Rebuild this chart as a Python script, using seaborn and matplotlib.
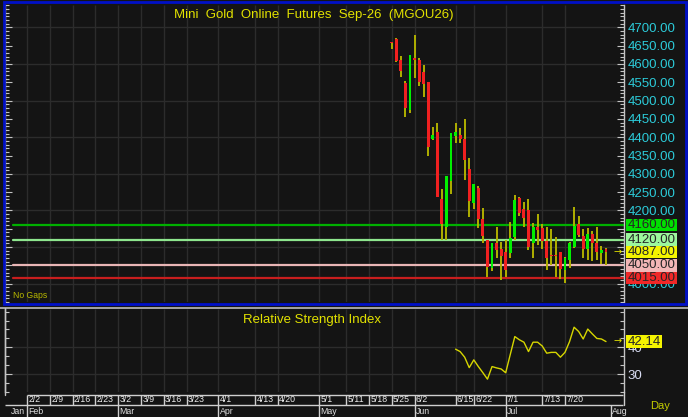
import numpy as np
import pandas as pd
import matplotlib
matplotlib.use("Agg")
import matplotlib.pyplot as plt
import matplotlib.transforms as mtrans
from matplotlib.patches import Rectangle
from matplotlib.lines import Line2D
from matplotlib.ticker import MultipleLocator, FixedLocator, FuncFormatter
import seaborn as sns

# ---------------- data ----------------
title = "Mini  Gold  Online  Futures  Sep-26  (MGOU26)"
rsi_title = "Relative Strength Index"
first_candle_date = "2026-05-25"
no_session_days = ["2026-06-01", "2026-06-19"]

opens = [4661, 4667, 4611, 4547, 4474, 4616, 4612, 4579, 4552, 4394, 4414, 4231,
         4155, 4280, 4403, 4407, 4394, 4312, 4219, 4261, 4178, 4118, 4044, 4110,
         4096, 4086, 4084, 4127, 4233, 4203, 4201, 4110, 4155, 4152, 4116, 4078,
         4078, 4087, 4037, 4066, 4101, 4163, 4131, 4096, 4137, 4110, 4084, 4096]
highs = [4661, 4671, 4622, 4554, 4624, 4680, 4617, 4597, 4552, 4427, 4440, 4258,
         4295, 4412, 4440, 4424, 4449, 4342, 4271, 4266, 4206, 4118, 4112, 4155,
         4115, 4119, 4168, 4241, 4237, 4223, 4231, 4167, 4190, 4163, 4155, 4149,
         4128, 4087, 4073, 4114, 4210, 4185, 4149, 4151, 4144, 4155, 4103, 4098]
lows = [4640, 4605, 4565, 4454, 4465, 4561, 4540, 4511, 4349, 4392, 4237, 4119,
        4119, 4246, 4383, 4383, 4283, 4183, 4204, 4151, 4110, 4019, 4036, 4069,
        4010, 4018, 4070, 4118, 4185, 4155, 4092, 4071, 4105, 4095, 4037, 4051,
        4017, 4014, 4002, 4042, 4097, 4128, 4070, 4064, 4062, 4064, 4053, 4051]
closes = [4658, 4608, 4582, 4480, 4624, 4611, 4550, 4545, 4374, 4406, 4237, 4163,
          4295, 4412, 4415, 4394, 4337, 4227, 4271, 4177, 4131, 4046, 4112, 4092,
          4075, 4038, 4124, 4228, 4192, 4179, 4100, 4154, 4146, 4116, 4071, 4075,
          4076, 4039, 4069, 4112, 4158, 4133, 4096, 4135, 4110, 4087, 4092, 4087]

rsi_period = 14
rsi_values = [39.3, 38.4, 36.3, 32.4, 35.3, 32.8, 30.5, 28.1, 32.8, 32.3, 31.9,
              30.5, 37.3, 44.0, 42.8, 41.9, 38.4, 41.9, 41.9, 40.5, 37.8, 38.1,
              38.1, 36.3, 38.1, 42.1, 47.5, 45.9, 43.1, 46.8, 45.0, 43.3, 43.1, 42.14]

level_values = [4160, 4120, 4050, 4015]
last_price = 4087.00
rsi_last = 42.14
price_ticks = [4000, 4050, 4100, 4150, 4200, 4250, 4300, 4350, 4400, 4450, 4500,
               4550, 4600, 4650, 4700]
hidden_price_labels = [4050, 4100, 4150]   # covered by the value boxes
rsi_ticks = [30, 40]

week_tick_dates = ["2026-02-02", "2026-02-09", "2026-02-16", "2026-02-23", "2026-03-02",
                   "2026-03-09", "2026-03-16", "2026-03-23", "2026-04-01", "2026-04-13",
                   "2026-04-20", "2026-05-01", "2026-05-11", "2026-05-18", "2026-05-25",
                   "2026-06-02", "2026-06-15", "2026-06-22", "2026-07-01", "2026-07-13",
                   "2026-07-20"]
week_tick_labels = ["2/2", "2/9", "2/16", "2/23", "3/2", "3/9", "3/16", "3/23", "4/1",
                    "4/13", "4/20", "5/1", "5/11", "5/18", "5/25", "6/2", "6/15", "6/22",
                    "7/1", "7/13", "7/20"]
month_starts = ["2026-02-01", "2026-03-01", "2026-04-01", "2026-05-01",
                "2026-06-01", "2026-07-01", "2026-08-01"]
month_labels = ["Feb", "Mar", "Apr", "May", "Jun", "Jul", "Aug"]
first_month_label = "Jan"

# ---------------- style ----------------
BG = "#141414"
GRID = "#2c2c2c"
SPINE = "#c4c4c4"
CYAN = "#2ccbd9"
YELLOW = "#e2e200"
WICK = "#b0b000"
UP = "#00f000"
DOWN = "#f02020"
level_line_colors = ["#00b000", "#8ee68e", "#e9b6b6", "#c81e1e"]
level_box_colors = ["#00e000", "#9cf79c", "#f2b6b6", "#f02828"]
LAST_BOX = "#f4f400"

sns.set_theme(style="dark", rc={"axes.facecolor": BG, "figure.facecolor": BG,
                                "axes.grid": False})
plt.rcParams["font.family"] = ["Liberation Sans", "DejaVu Sans"]

W, H = 688, 417
def frame(l, t, r, b):
    return [l / W, 1 - b / H, (r - l) / W, (b - t) / H]

AX_L, AX_R = 5, 623.5
MAIN_T, MAIN_B = 5, 302
RSI_T, RSI_B = 309, 392
DATE_T = 393

# trading calendar
days = pd.bdate_range("2026-01-26", "2026-08-31")
days = days[~days.isin(pd.to_datetime(no_session_days))]
start = days.searchsorted(pd.Timestamp(first_candle_date))
cidx = start + np.arange(len(closes))
ridx = cidx[rsi_period:]
week_pos = days.searchsorted(pd.to_datetime(week_tick_dates))
month_pos = days.searchsorted(pd.to_datetime(month_starts))

XLIM = (0.17, 135.84)
PLIM = (3950, 4761)
RLIM = (23.3, 54.3)

fig = plt.figure(figsize=(W / 100, H / 100), dpi=100, facecolor=BG)

# ---------------- main price panel ----------------
ax = fig.add_axes(frame(AX_L, MAIN_T, AX_R, MAIN_B))
ax.set_facecolor(BG)
ax.set_xlim(*XLIM)
ax.set_ylim(*PLIM)
ax.hlines(price_ticks[::2], XLIM[0], XLIM[1], color=GRID, lw=1, zorder=0.5)
ax.vlines(week_pos, PLIM[0], PLIM[1], color=GRID, lw=1, zorder=0.5)

o = np.array(opens, float); c = np.array(closes, float)
hi = np.array(highs, float); lo = np.array(lows, float)
ax.vlines(cidx, lo, hi, color=WICK, lw=1.4, zorder=2)
body_bottom = np.minimum(o, c)
body_h = np.maximum(np.abs(c - o), 2.5)
body_col = [UP if cc >= oo else DOWN for oo, cc in zip(o, c)]
ax.bar(cidx, body_h, bottom=body_bottom, width=0.64, color=body_col,
       edgecolor="none", zorder=3)

for val, col in zip(level_values, level_line_colors):
    ax.axhline(val, xmin=0.013, xmax=1, color=col, lw=1.6, zorder=1.5)

ax.yaxis.tick_right()
ax.yaxis.set_major_locator(FixedLocator(price_ticks))
ax.yaxis.set_minor_locator(MultipleLocator(10))
ax.yaxis.set_major_formatter(FuncFormatter(
    lambda v, p: "" if round(v) in hidden_price_labels else f"{v:.2f}"))
ax.tick_params(axis="y", which="both", direction="in", left=True, right=True,
               labelleft=False, labelright=True, color=SPINE, labelcolor=CYAN,
               labelsize=9.5, pad=3, width=0.8)
ax.tick_params(axis="y", which="major", length=5)
ax.tick_params(axis="y", which="minor", length=3)
ax.set_xticks([])
for s in ["top", "bottom"]:
    ax.spines[s].set_visible(False)
for s in ["left", "right"]:
    ax.spines[s].set_color(SPINE)
    ax.spines[s].set_linewidth(1)

# value boxes on the right scale
ax_w_px = AX_R - AX_L
ppu = (MAIN_B - MAIN_T) / (PLIM[1] - PLIM[0])
bt = mtrans.blended_transform_factory(ax.transAxes, ax.transData)
box_h = 12.5 / ppu
box_x = 1 + 2.5 / ax_w_px
box_w = 51 / ax_w_px
for val, col in list(zip(level_values[:2], level_box_colors[:2])) + \
        [(last_price, LAST_BOX)] + list(zip(level_values[2:], level_box_colors[2:])):
    ax.add_patch(Rectangle((box_x, val - box_h / 2), box_w, box_h, transform=bt,
                           facecolor=col, edgecolor="none", clip_on=False, zorder=5))
    ax.text(box_x + 1.5 / ax_w_px, val, f"{val:.2f}", transform=bt, ha="left",
            va="center", fontsize=9.5, color="#262626", clip_on=False, zorder=6)
ax.text(1 - 10 / ax_w_px, last_price, "\u2192", transform=bt, ha="left", va="center",
        fontsize=7, color=YELLOW, family="DejaVu Sans", zorder=6)

ax.text(8 / ax_w_px, 2.5 / (MAIN_B - MAIN_T), "No Gaps", transform=ax.transAxes,
        ha="left", va="bottom", fontsize=6.2, color="#b8b800")

fig.text(314 / W, 1 - 15 / H, title, color=YELLOW, fontsize=9.5, ha="center", va="center")

# ---------------- RSI panel ----------------
axr = fig.add_axes(frame(AX_L, RSI_T, AX_R, RSI_B))
axr.set_facecolor(BG)
axr.set_xlim(*XLIM)
axr.set_ylim(*RLIM)
axr.hlines(rsi_ticks, XLIM[0], XLIM[1], color=GRID, lw=1, zorder=0.5)
axr.vlines(week_pos, RLIM[0], RLIM[1], color=GRID, lw=1, zorder=0.5)
rsi_df = pd.DataFrame({"idx": ridx, "rsi": rsi_values})
sns.lineplot(data=rsi_df, x="idx", y="rsi", ax=axr, color="#d6d600", lw=1.0, zorder=3)
axr.set_xlabel(""); axr.set_ylabel("")
axr.yaxis.tick_right()
axr.yaxis.set_major_locator(FixedLocator(rsi_ticks))
axr.yaxis.set_minor_locator(MultipleLocator(10 / 3))
axr.tick_params(axis="y", which="both", direction="in", left=True, right=True,
                labelleft=False, labelright=True, color=SPINE, labelcolor="#d8dcf2",
                labelsize=9.5, pad=3, width=0.8)
axr.tick_params(axis="y", which="major", length=5)
axr.tick_params(axis="y", which="minor", length=3)
axr.set_xticks([])
for s in ["top", "bottom"]:
    axr.spines[s].set_visible(False)
for s in ["left", "right"]:
    axr.spines[s].set_color(SPINE)
    axr.spines[s].set_linewidth(1)
rppu = (RSI_B - RSI_T) / (RLIM[1] - RLIM[0])
brt = mtrans.blended_transform_factory(axr.transAxes, axr.transData)
rb_h = 12.5 / rppu
axr.add_patch(Rectangle((box_x, rsi_last - rb_h / 2), 36 / ax_w_px, rb_h, transform=brt,
                        facecolor=LAST_BOX, edgecolor="none", clip_on=False, zorder=5))
axr.text(box_x + 1.5 / ax_w_px, rsi_last, f"{rsi_last:.2f}", transform=brt, ha="left",
         va="center", fontsize=9.5, color="#262626", clip_on=False, zorder=6)
axr.text(1 - 10 / ax_w_px, rsi_last, "\u2192", transform=brt, ha="left", va="center",
         fontsize=7, color=YELLOW, family="DejaVu Sans", zorder=6)
axr.text((312 - AX_L) / ax_w_px, (RSI_B - 320) / (RSI_B - RSI_T), rsi_title,
         transform=axr.transAxes, ha="center", va="center", fontsize=9.5, color=YELLOW)

# ---------------- date strip ----------------
axd = fig.add_axes(frame(AX_L, DATE_T, AX_R, H))
axd.set_facecolor(BG)
axd.set_xlim(*XLIM)
axd.set_ylim(0, 24)
axd.axis("off")
LINE = "#cfcfcf"
axd.vlines(week_pos, 12.5, 22, color=LINE, lw=1)
axd.hlines(22, week_pos[0], XLIM[1], color=LINE, lw=1)
axd.hlines(12.5, XLIM[0], XLIM[1], color=LINE, lw=1)
visible_months = [(p, m) for p, m in zip(month_pos, month_labels) if p < XLIM[1]]
axd.vlines([p for p, _ in visible_months], 0, 12.5, color=LINE, lw=1)
for p, lab in zip(week_pos, week_tick_labels):
    axd.annotate(lab, (p, 17.0), xytext=(1.0, 0), textcoords="offset points",
                 ha="left", va="center", fontsize=6.3, color="#eeeeee")
for p, lab in visible_months:
    axd.annotate(lab, (p, 6.0), xytext=(1.0, 0), textcoords="offset points",
                 ha="left", va="center", fontsize=6.3, color="#e0e0e0")
axd.annotate(first_month_label, (visible_months[0][0], 6.0), xytext=(-1.5, 0),
             textcoords="offset points", ha="right", va="center", fontsize=6.3,
             color="#e0e0e0")
fig.text(660 / W, 1 - 406 / H, "Day", color="#c4cc00", fontsize=8, ha="center", va="center")

# ---------------- frames ----------------
fig.add_artist(Rectangle((3.5 / W, 1 - 304 / H), 682.5 / W, 302.5 / H, fill=False,
                         edgecolor="#0010c8", lw=2, transform=fig.transFigure))
fig.add_artist(Line2D([0, 1], [1 - 307.5 / H, 1 - 307.5 / H], color="#bdbdbd", lw=1.2,
                      transform=fig.transFigure))
fig.add_artist(Line2D([AX_L / W, AX_L / W], [1 - 308 / H, 1 - 395 / H], color=SPINE,
                      lw=1, transform=fig.transFigure))
fig.add_artist(Line2D([AX_R / W, AX_R / W], [1 - 392 / H, 1 - 404.5 / H], color=LINE,
                      lw=1, transform=fig.transFigure))

fig.savefig("out.png", dpi=100, facecolor=BG)
